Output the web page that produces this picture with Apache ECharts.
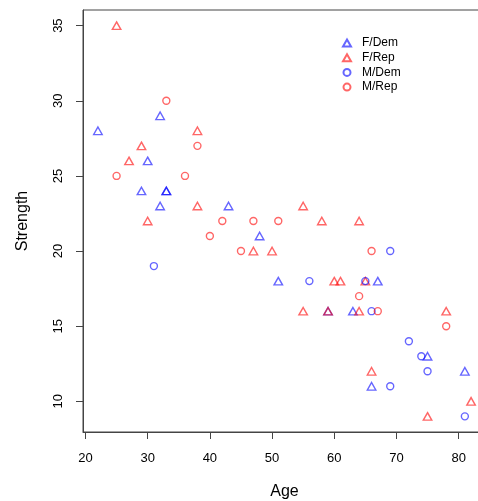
<!DOCTYPE html>
<html>
<head>
<meta charset="utf-8">
<script src="https://cdn.jsdelivr.net/npm/echarts@6/dist/echarts.min.js"></script>
<style>
  html, body { margin: 0; padding: 0; background: #fff; overflow: hidden; }
  #chart { width: 500px; height: 501px; }
</style>
</head>
<body>
<div id="chart"></div>
<script>
// Grip strength by age, split by sex and party
const fDemAge      = [22, 29, 30, 32, 32, 33, 33, 43, 48, 51, 59, 63, 66, 67, 75, 81];
const fDemStrength = [28, 24, 26, 29, 23, 24, 24, 23, 21, 18, 16, 16, 11, 18, 13, 12];

const fRepAge      = [25, 27, 29, 30, 38, 38, 47, 50, 55, 55, 58, 59, 60, 61, 64, 64, 65, 66, 75, 78, 82];
const fRepStrength = [35, 26, 27, 22, 28, 23, 20, 20, 23, 16, 22, 16, 18, 18, 22, 16, 18, 12, 9, 16, 10];

const mDemAge      = [31, 56, 65, 66, 69, 69, 72, 74, 75, 81];
const mDemStrength = [19, 18, 18, 16, 20, 11, 14, 13, 12, 9];

const mRepAge      = [25, 33, 36, 38, 40, 42, 45, 47, 51, 64, 66, 67, 78];
const mRepStrength = [25, 30, 25, 27, 21, 22, 20, 22, 22, 17, 20, 16, 15];

const xTicks = [20, 30, 40, 50, 60, 70, 80];
const yTicks = [10, 15, 20, 25, 30, 35];

const BLUE = 'rgba(0,0,255,0.75)';
const RED = 'rgba(255,0,0,0.75)';
const FONT = '"Liberation Sans", Arial, Helvetica, sans-serif';

function pairs(xs, ys) { return xs.map((x, i) => [x, ys[i]]); }

function makeSeries(name, xs, ys, color, isTriangle) {
  return {
    name: name,
    type: 'scatter',
    data: pairs(xs, ys),
    symbol: isTriangle ? 'triangle' : 'circle',
    symbolSize: isTriangle ? [8.5, 7.5] : 7,
    itemStyle: { color: 'rgba(0,0,0,0)', borderColor: color, borderWidth: 1.4 },
    emphasis: { disabled: true },
    z: 3
  };
}

const chart = echarts.init(document.getElementById('chart'), null, { renderer: 'canvas' });

chart.setOption({
  animation: false,
  backgroundColor: '#fff',
  textStyle: { fontFamily: FONT },
  grid: {
    left: 83, top: 10, width: 403, height: 422,
    outerBoundsMode: 'none',
    containLabel: false,
    show: true, borderColor: '#444', borderWidth: 1, backgroundColor: 'transparent'
  },
  legend: {
    orient: 'vertical',
    left: 337, top: 32,
    itemWidth: 8, itemHeight: 7,
    itemGap: 2.7,
    selectedMode: false,
    textStyle: { fontFamily: FONT, fontSize: 12, color: '#000', padding: [0, 0, 0, 6] },
    data: ['F/Dem', 'F/Rep', 'M/Dem', 'M/Rep']
  },
  xAxis: {
    type: 'value',
    min: 19.6, max: 84.4,
    name: 'Age',
    nameLocation: 'middle',
    nameGap: 52,
    nameTextStyle: { fontFamily: FONT, fontSize: 16, color: '#000' },
    axisLine: { show: true, onZero: false, lineStyle: { color: '#444', width: 1 } },
    axisTick: { show: true, length: 7, lineStyle: { color: '#444' }, customValues: xTicks },
    axisLabel: { fontFamily: FONT, fontSize: 13, color: '#000', margin: 20, customValues: xTicks },
    splitLine: { show: false }
  },
  yAxis: {
    type: 'value',
    min: 7.96, max: 36.04,
    name: 'Strength',
    nameLocation: 'middle',
    nameGap: 52,
    nameTextStyle: { fontFamily: FONT, fontSize: 16, color: '#000' },
    axisLine: { show: true, onZero: false, lineStyle: { color: '#444', width: 1 } },
    axisTick: { show: true, length: 7, lineStyle: { color: '#444' }, customValues: yTicks },
    axisLabel: { fontFamily: FONT, fontSize: 13, color: '#000', margin: 18, rotate: 90, customValues: yTicks },
    splitLine: { show: false }
  },
  series: [
    makeSeries('F/Dem', fDemAge, fDemStrength, BLUE, true),
    makeSeries('F/Rep', fRepAge, fRepStrength, RED, true),
    makeSeries('M/Dem', mDemAge, mDemStrength, BLUE, false),
    makeSeries('M/Rep', mRepAge, mRepStrength, RED, false)
  ]
});
</script>
</body>
</html>
